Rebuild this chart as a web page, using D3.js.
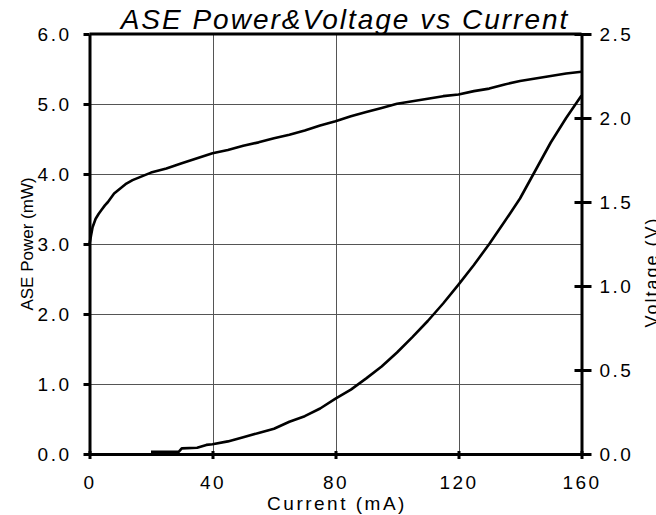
<!DOCTYPE html>
<head>
  <meta charset="utf-8">
  <script src="https://d3js.org/d3.v7.min.js"></script>
  <style>
    body { margin: 0; background: #fff; }
    svg { display: block; font-family: "Liberation Sans", Arial, sans-serif; }
    .axis text { fill: #000; font-size: 19px; letter-spacing: 2.5px; }
    .axis path, .axis line { stroke: #000; stroke-width: 3px; }
    .grid line { stroke: #555; stroke-width: 1px; shape-rendering: crispEdges; }
  </style>
</head>
<body>
<script>
// voltage curve (V)
var voltCurrent = [0, 0.5, 1, 2, 3, 4, 5, 6, 8, 10, 12, 14, 16, 18, 20, 25, 30, 35, 40, 45, 50, 55, 60, 65, 70, 75,
                   80, 85, 90, 95, 100, 105, 110, 115, 120, 125, 130, 135, 140, 145, 150, 155, 160];
var voltage = [1.25, 1.30, 1.35, 1.40, 1.43, 1.455, 1.48, 1.50, 1.55, 1.58, 1.61, 1.63, 1.645, 1.66, 1.675, 1.70, 1.73, 1.76, 1.79, 1.81, 1.835, 1.855, 1.88, 1.90, 1.925, 1.955,
               1.98, 2.01, 2.035, 2.06, 2.085, 2.10, 2.115, 2.13, 2.14, 2.16, 2.175, 2.20, 2.22, 2.235, 2.25, 2.265, 2.275];

// ASE power curve (mW)
var powerCurrent = [20, 25, 29, 30, 35, 38, 40, 45, 50, 55, 60, 65, 70, 75, 80, 85, 90, 95, 100, 105, 110, 115,
                    120, 125, 130, 135, 140, 145, 150, 155, 160];
var power = [0.03, 0.03, 0.03, 0.08, 0.09, 0.13, 0.14, 0.18, 0.24, 0.30, 0.36, 0.46, 0.54, 0.65, 0.79, 0.92, 1.08, 1.25, 1.45, 1.67, 1.90, 2.15,
             2.42, 2.70, 3.00, 3.32, 3.65, 4.05, 4.45, 4.80, 5.12];

var xTicks = [0, 40, 80, 120, 160];
var leftTicks = [0, 1, 2, 3, 4, 5, 6];
var rightTicks = [0, 0.5, 1, 1.5, 2, 2.5];

var W = 656, H = 515;
var pLeft = 89.5, pRight = 581.5, pTop = 34, pBottom = 454;

var svg = d3.select("body").append("svg")
    .attr("width", W)
    .attr("height", H);

var x = d3.scaleLinear().domain([0, 160]).range([pLeft, pRight]);
var y = d3.scaleLinear().domain([0, 6]).range([pBottom, pTop]);
var y2 = d3.scaleLinear().domain([0, 2.5]).range([pBottom, pTop]);

// gridlines
var grid = svg.append("g").attr("class", "grid");
grid.selectAll(".h").data(leftTicks.slice(1, -1)).enter().append("line")
    .attr("x1", pLeft).attr("x2", pRight)
    .attr("y1", function(d) { return Math.round(y(d)) + 0.5; })
    .attr("y2", function(d) { return Math.round(y(d)) + 0.5; });
grid.selectAll(".v").data(xTicks.slice(1, -1)).enter().append("line")
    .attr("y1", pTop).attr("y2", pBottom)
    .attr("x1", function(d) { return Math.round(x(d)) + 0.5; })
    .attr("x2", function(d) { return Math.round(x(d)) + 0.5; });

// top border
svg.append("line")
    .attr("x1", pLeft).attr("x2", pRight)
    .attr("y1", pTop).attr("y2", pTop)
    .attr("stroke", "#000").attr("stroke-width", 3);

// left axis
var gl = svg.append("g").attr("class", "axis")
    .attr("transform", "translate(" + pLeft + ",0)")
    .call(d3.axisLeft(y).tickValues(leftTicks).tickFormat(d3.format(".1f")).tickSize(6).tickSizeOuter(0).tickPadding(12));
gl.selectAll("text").attr("dy", "0.36em");

// right axis, ticks cross the line
var gr = svg.append("g").attr("class", "axis")
    .attr("transform", "translate(" + pRight + ",0)")
    .call(d3.axisRight(y2).tickValues(rightTicks).tickFormat(d3.format(".1f")).tickSize(10).tickSizeOuter(0).tickPadding(8));
gr.selectAll(".tick line").attr("x1", -7);
gr.selectAll("text").attr("dy", "0.36em");

// bottom axis
var gb = svg.append("g").attr("class", "axis")
    .attr("transform", "translate(0," + pBottom + ")")
    .call(d3.axisBottom(x).tickValues(xTicks).tickSize(5).tickSizeOuter(0));
gb.selectAll(".tick line").attr("y1", -3);
gb.selectAll("text").attr("y", 35).attr("dy", null);

// curves
var vLine = d3.line()
    .x(function(d) { return x(d[0]); })
    .y(function(d) { return y2(d[1]); });
var pLine = d3.line()
    .x(function(d) { return x(d[0]); })
    .y(function(d) { return y(d[1]); });

svg.append("path")
    .datum(d3.zip(voltCurrent, voltage))
    .attr("d", vLine)
    .attr("fill", "none").attr("stroke", "#000").attr("stroke-width", 2.6)
    .attr("stroke-linejoin", "round");

svg.append("path")
    .datum(d3.zip(powerCurrent, power))
    .attr("d", pLine)
    .attr("fill", "none").attr("stroke", "#000").attr("stroke-width", 2.6)
    .attr("stroke-linejoin", "round");

// titles
svg.append("text")
    .attr("x", 345).attr("y", 29)
    .attr("text-anchor", "middle")
    .style("font-size", "28px").style("font-style", "italic").style("letter-spacing", "2px")
    .text("ASE Power&Voltage vs Current");

svg.append("text")
    .attr("x", 337).attr("y", 510)
    .attr("text-anchor", "middle")
    .style("font-size", "19px").style("letter-spacing", "2.5px")
    .text("Current (mA)");

svg.append("text")
    .attr("transform", "translate(33," + (pTop + pBottom) / 2 + ") rotate(-90)")
    .attr("text-anchor", "middle")
    .style("font-size", "17px")
    .text("ASE Power (mW)");

svg.append("text")
    .attr("transform", "translate(658,272) rotate(-90)")
    .attr("text-anchor", "middle")
    .style("font-size", "18px").style("letter-spacing", "2px")
    .text("Voltage (V)");
</script>
</body>
